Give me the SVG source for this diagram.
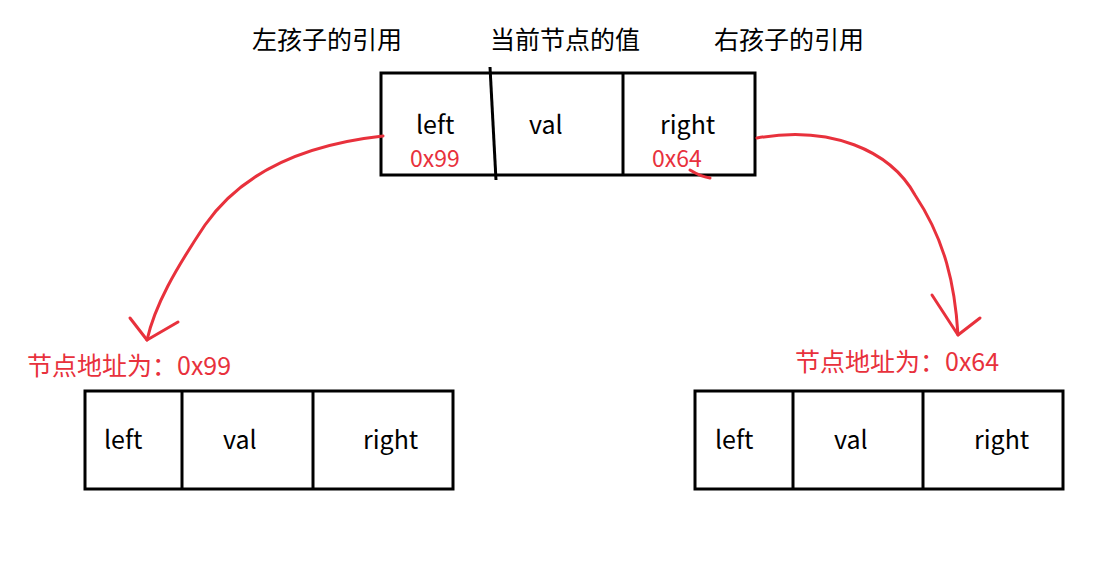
<svg xmlns="http://www.w3.org/2000/svg" width="1112" height="568" viewBox="0 0 1112 568">
<style>
.box{fill:none;stroke:#000;stroke-width:3}
.ln{stroke:#000;stroke-width:3}
.t{font-family:"Noto Sans CJK SC","Noto Sans",sans-serif;font-size:25px;fill:#000}
.s{font-size:23px}
.r{fill:#e8313c}
.c{fill:none;stroke:#e8313c;stroke-width:3;stroke-linecap:round;stroke-linejoin:round}
</style>
<rect width="1112" height="568" fill="#fff"/>
<g id="labels">
<text class="t" x="252" y="49">左孩子的引用</text>
<text class="t" x="490" y="49">当前节点的值</text>
<text class="t" x="714" y="49">右孩子的引用</text>
</g>
<g id="node-top">
<rect class="box" x="381" y="73" width="374" height="102"/>
<line class="ln" x1="490" y1="67" x2="496" y2="180"/>
<line class="ln" x1="623" y1="73" x2="623" y2="175"/>
<text class="t" x="416" y="134">left</text>
<text class="t" x="529" y="134">val</text>
<text class="t" x="660" y="134">right</text>
<text class="t s r" x="410" y="167">0x99</text>
<text class="t s r" x="652" y="167">0x64</text>
</g>
<g id="node-left">
<text class="t r" x="27" y="375">节点地址为：0x99</text>
<rect class="box" x="85" y="391" width="368" height="98"/>
<line class="ln" x1="182" y1="391" x2="182" y2="489"/>
<line class="ln" x1="313" y1="391" x2="313" y2="489"/>
<text class="t" x="104" y="449">left</text>
<text class="t" x="223" y="449">val</text>
<text class="t" x="363" y="449">right</text>
</g>
<g id="node-right">
<text class="t r" x="795" y="371">节点地址为：0x64</text>
<rect class="box" x="695" y="391" width="368" height="98"/>
<line class="ln" x1="793" y1="391" x2="793" y2="489"/>
<line class="ln" x1="923" y1="391" x2="923" y2="489"/>
<text class="t" x="715" y="449">left</text>
<text class="t" x="834" y="449">val</text>
<text class="t" x="974" y="449">right</text>
</g>
<g id="connectors">
<path class="c" d="M383,136 C300,145 240,175 205,225 C175,270 155,305 147,340"/>
<path class="c" d="M130,318 L147,340 L178,322"/>
<path class="c" d="M757,138 C830,125 890,150 915,195 C945,240 955,285 958,335"/>
<path class="c" d="M932,295 L958,335 L980,318"/>
<path class="c" d="M690,170 C698,175 704,177 710,178"/>
</g>
</svg>
